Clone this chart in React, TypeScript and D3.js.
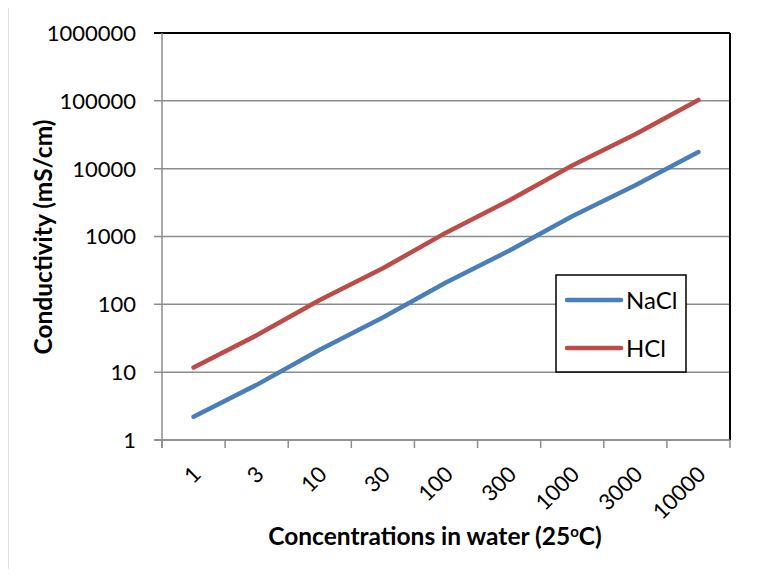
import React, { useEffect, useRef } from 'react';
import * as d3 from 'd3';

const concentrations = ['1', '3', '10', '30', '100', '300', '1000', '3000', '10000'];
const nacl = [2.2, 6.5, 21.4, 64, 210, 617, 1990, 5690, 17600];
const hcl = [11.7, 35, 116, 340, 1140, 3390, 11100, 32200, 103000];
const yTicks = [1, 10, 100, 1000, 10000, 100000, 1000000];

const series = [
    { name: 'NaCl', values: nacl, color: '#4a7ebb' },
    { name: 'HCl', values: hcl, color: '#be4b48' },
];

const FONT = 'Lato, "Noto Sans", sans-serif';

const App = () => {
    const ref = useRef<SVGSVGElement | null>(null);

    useEffect(() => {
        const W = 761;
        const H = 577;
        const margin = { top: 33, right: 31, bottom: 137, left: 162 };
        const width = W - margin.left - margin.right;
        const height = H - margin.top - margin.bottom;

        const root = d3.select(ref.current);
        root.selectAll('*').remove();

        // outer chart border (only left + top fall inside the picture)
        root
            .append('rect')
            .attr('x', 7.5)
            .attr('y', 4.5)
            .attr('width', W + 20)
            .attr('height', H + 20)
            .attr('fill', 'white')
            .attr('stroke', '#888')
            .attr('stroke-width', 1.5);

        const svg = root.append('g').attr('transform', `translate(${margin.left},${margin.top})`);

        const x = d3.scaleBand().domain(concentrations).range([0, width]);
        const y = d3.scaleLog().domain([1, 1000000]).range([height, 0]);

        // gridlines
        svg
            .append('g')
            .selectAll('line')
            .data(yTicks)
            .enter()
            .append('line')
            .attr('x1', -8)
            .attr('x2', width)
            .attr('y1', (d) => y(d))
            .attr('y2', (d) => y(d))
            .attr('stroke', (d) => (d === 1000000 ? 'black' : '#8c8c8c'))
            .attr('stroke-width', (d) => (d === 1000000 ? 2 : 1.5));

        // right border
        svg
            .append('line')
            .attr('x1', width)
            .attr('x2', width)
            .attr('y1', 0)
            .attr('y2', height)
            .attr('stroke', 'black')
            .attr('stroke-width', 2);

        // y axis line
        svg
            .append('line')
            .attr('x1', 0)
            .attr('x2', 0)
            .attr('y1', 0)
            .attr('y2', height + 8)
            .attr('stroke', '#8c8c8c')
            .attr('stroke-width', 1.5);

        // x axis line + ticks
        svg
            .append('line')
            .attr('x1', -8)
            .attr('x2', width)
            .attr('y1', height)
            .attr('y2', height)
            .attr('stroke', '#8c8c8c')
            .attr('stroke-width', 1.5);
        const bounds = concentrations.map((c) => x(c) as number).concat([width]);
        svg
            .append('g')
            .selectAll('line')
            .data(bounds)
            .enter()
            .append('line')
            .attr('x1', (d) => d)
            .attr('x2', (d) => d)
            .attr('y1', height)
            .attr('y2', height + 8)
            .attr('stroke', '#8c8c8c')
            .attr('stroke-width', 1.5);

        // y tick labels
        svg
            .append('g')
            .selectAll('text')
            .data(yTicks)
            .enter()
            .append('text')
            .attr('x', -26)
            .attr('y', (d) => y(d))
            .attr('dy', '0.36em')
            .attr('text-anchor', 'end')
            .attr('font-family', FONT)
            .attr('font-size', 22)
            .text((d) => String(d));

        // x tick labels
        svg
            .append('g')
            .selectAll('text')
            .data(concentrations)
            .enter()
            .append('text')
            .attr(
                'transform',
                (d) => `translate(${(x(d) as number) + x.bandwidth() / 2 + 3},${height + 30}) rotate(-45)`
            )
            .attr('text-anchor', 'end')
            .attr('dy', '0.36em')
            .attr('font-family', FONT)
            .attr('font-size', 22)
            .text((d) => d);

        // lines
        const line = d3
            .line<number>()
            .x((_, i) => (x(concentrations[i]) as number) + x.bandwidth() / 2)
            .y((d) => y(d));

        svg
            .append('g')
            .selectAll('path')
            .data(series)
            .enter()
            .append('path')
            .attr('d', (s) => line(s.values))
            .attr('fill', 'none')
            .attr('stroke', (s) => s.color)
            .attr('stroke-width', 4.5)
            .attr('stroke-linecap', 'round')
            .attr('stroke-linejoin', 'round');

        // legend
        const legend = root.append('g').attr('transform', 'translate(556,275)');
        legend
            .append('rect')
            .attr('width', 130)
            .attr('height', 97)
            .attr('fill', 'white')
            .attr('stroke', 'black')
            .attr('stroke-width', 1.5);
        series.forEach((s, i) => {
            const ly = 25 + i * 48;
            legend
                .append('line')
                .attr('x1', 11)
                .attr('x2', 65)
                .attr('y1', ly)
                .attr('y2', ly)
                .attr('stroke', s.color)
                .attr('stroke-width', 4.5)
                .attr('stroke-linecap', 'round');
            legend
                .append('text')
                .attr('x', 70)
                .attr('y', ly)
                .attr('dy', '0.36em')
                .attr('font-family', FONT)
                .attr('font-size', 24)
                .text(s.name);
        });

        // axis titles
        const xTitle = root
            .append('text')
            .attr('x', 435)
            .attr('y', 545)
            .attr('text-anchor', 'middle')
            .attr('font-family', FONT)
            .attr('font-weight', 'bold')
            .attr('font-size', 24.5);
        xTitle.append('tspan').text('Concentrations in water (25');
        xTitle.append('tspan').attr('dy', -8).attr('font-size', 15).text('o');
        xTitle.append('tspan').attr('dy', 8).text('C)');

        root
            .append('text')
            .attr('transform', 'translate(52,237) rotate(-90)')
            .attr('text-anchor', 'middle')
            .attr('font-family', FONT)
            .attr('font-weight', 'bold')
            .attr('font-size', 24.5)
            .text('Conductivity (mS/cm)');
    }, []);

    return <svg ref={ref} width={761} height={577} style={{ display: 'block', margin: '-8px' }} />;
};

export default App;
